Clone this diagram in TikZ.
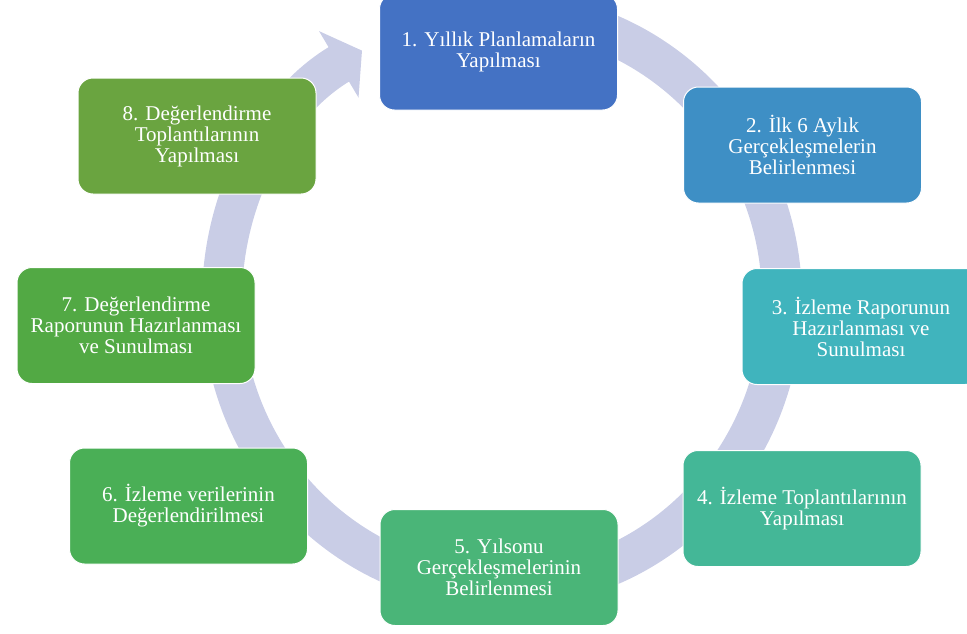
\documentclass[tikz,border=0pt]{standalone}
\usepackage{fontspec}
\setmainfont{Liberation Serif}
\usetikzlibrary{arrows.meta}
\definecolor{ringcol}{RGB}{201,205,230}
\definecolor{c1}{RGB}{68,114,196}
\definecolor{c2}{RGB}{62,143,197}
\definecolor{c3}{RGB}{64,180,189}
\definecolor{c4}{RGB}{68,183,151}
\definecolor{c5}{RGB}{74,181,120}
\definecolor{c6}{RGB}{74,175,86}
\definecolor{c7}{RGB}{82,169,68}
\definecolor{c8}{RGB}{106,164,64}

\begin{document}
\begin{tikzpicture}[x=1pt,y=-1pt,
	stage/.style={rounded corners=15pt, minimum width=238pt, minimum height=116pt, inner sep=2pt,
		draw=white, line width=1pt, text=white, align=center, font=\fontsize{21}{21}\selectfont}]
	\useasboundingbox (0,0) rectangle (967,633);
	\clip (0,0) rectangle (967,633);
	\draw[ringcol, line width=40pt, -{Triangle[length=27pt,width=76pt]}] (502,300) ++(-95:280 and 288) arc[start angle=-95, end angle=240, x radius=280, y radius=288];
	\node[stage, fill=c1] (plan) at (498.5,52) {1. Yıllık Planlamaların\\Yapılması};
	\node[stage, fill=c2] (ilk) at (802.5,145) {2. İlk 6 Aylık\\Gerçekleşmelerin\\Belirlenmesi};
	\node[stage, fill=c3] (rapor) at (861,326.5) {3. İzleme Raporunun\\Hazırlanması ve\\Sunulması};
	\node[stage, fill=c4] (toplanti) at (802,508.5) {4. İzleme Toplantılarının\\Yapılması};
	\node[stage, fill=c5] (yilsonu) at (499,567.5) {5. Yılsonu\\Gerçekleşmelerinin\\Belirlenmesi};
	\node[stage, fill=c6] (veri) at (188.5,506) {6. İzleme verilerinin\\Değerlendirilmesi};
	\node[stage, fill=c7] (degrapor) at (136,325.5) {7. Değerlendirme\\Raporunun Hazırlanması\\ve Sunulması};
	\node[stage, fill=c8] (degtop) at (197,136) {8. Değerlendirme\\Toplantılarının\\Yapılması};
\end{tikzpicture}
\end{document}
